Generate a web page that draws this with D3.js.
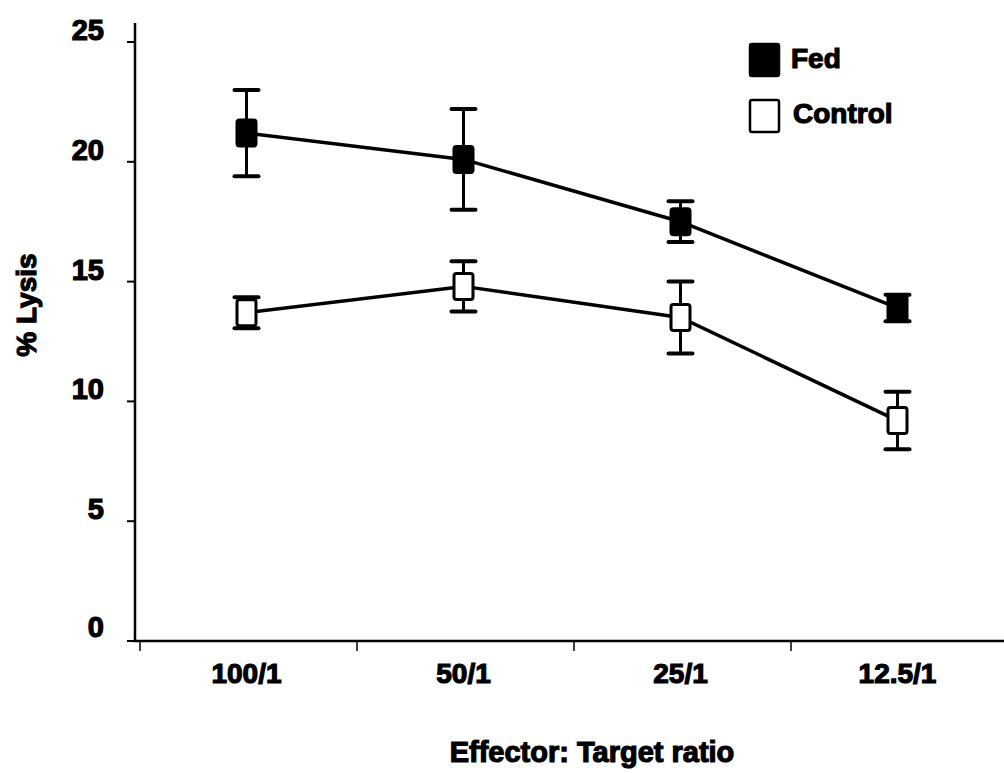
<!DOCTYPE html>
<html>
<head>
<meta charset="utf-8">
<script src="https://cdn.jsdelivr.net/npm/d3@7"></script>
<style>
  body { margin: 0; background: #fff; }
  text { font-family: "Liberation Sans", Arial, sans-serif; font-weight: bold; fill: #000; stroke: #000; stroke-width: 1.2px; }
</style>
</head>
<body>
<script>
var categories = ["100/1", "50/1", "25/1", "12.5/1"];
var fedMean    = [21.2, 20.1, 17.5, 13.9];
var fedErr     = [1.8, 2.1, 0.85, 0.55];
var ctrlMean   = [13.7, 14.8, 13.5, 9.2];
var ctrlErr    = [0.65, 1.05, 1.5, 1.2];
var yTicks     = [0, 5, 10, 15, 20, 25];

var width = 1004, height = 773;

var svg = d3.select("body").append("svg")
    .attr("width", width)
    .attr("height", height);

var x = d3.scaleBand().domain(categories).range([140, 1008]);
var y = d3.scaleLinear().domain([0, 25]).range([641, 42]);
var cx = function(c){ return x(c) + x.bandwidth() / 2 - 2; };

// axes
svg.append("line")
    .attr("x1", 135).attr("x2", 135)
    .attr("y1", 23).attr("y2", 642)
    .attr("stroke", "#000").attr("stroke-width", 2.5);
svg.append("line")
    .attr("x1", 133).attr("x2", 1004)
    .attr("y1", 641).attr("y2", 641)
    .attr("stroke", "#000").attr("stroke-width", 2.5);

svg.selectAll(".ytick").data(yTicks).enter().append("line")
    .attr("x1", 127).attr("x2", 135)
    .attr("y1", function(d){ return y(d); })
    .attr("y2", function(d){ return y(d); })
    .attr("stroke", "#000").attr("stroke-width", 2);

svg.selectAll(".ylab").data(yTicks).enter().append("text")
    .attr("x", 104)
    .attr("y", function(d){ return y(d) - (d === 0 ? 4 : 2); })
    .attr("text-anchor", "end")
    .attr("font-size", 29)
    .text(function(d){ return d; });

svg.selectAll(".xtick").data(categories).enter().append("line")
    .attr("x1", function(d){ return x(d); })
    .attr("x2", function(d){ return x(d); })
    .attr("y1", 641).attr("y2", 651)
    .attr("stroke", "#000").attr("stroke-width", 1.5);

svg.selectAll(".xlab").data(categories).enter().append("text")
    .attr("x", function(d){ return cx(d); })
    .attr("y", 683)
    .attr("text-anchor", "middle")
    .attr("font-size", 28)
    .text(function(d){ return d; });

svg.append("text")
    .attr("x", 592).attr("y", 762)
    .attr("text-anchor", "middle")
    .attr("font-size", 29)
    .text("Effector: Target ratio");

svg.append("text")
    .attr("transform", "translate(36,305) rotate(-90)")
    .attr("text-anchor", "middle")
    .attr("font-size", 28)
    .text("% Lysis");

function drawSeries(mean, err, filled) {
    var pts = categories.map(function(c, i){ return {c: c, m: mean[i], e: err[i]}; });
    var line = d3.line()
        .x(function(d){ return cx(d.c); })
        .y(function(d){ return y(d.m); });
    svg.append("path")
        .datum(pts)
        .attr("d", line)
        .attr("fill", "none")
        .attr("stroke", "#000")
        .attr("stroke-width", 3.5);

    var g = svg.append("g");
    g.selectAll(".ev").data(pts).enter().append("line")
        .attr("x1", function(d){ return cx(d.c); })
        .attr("x2", function(d){ return cx(d.c); })
        .attr("y1", function(d){ return y(d.m + d.e); })
        .attr("y2", function(d){ return y(d.m - d.e); })
        .attr("stroke", "#000").attr("stroke-width", 3);
    [1, -1].forEach(function(s){
        g.selectAll(".cap").data(pts).enter().append("line")
            .attr("x1", function(d){ return cx(d.c) - 12; })
            .attr("x2", function(d){ return cx(d.c) + 12; })
            .attr("y1", function(d){ return y(d.m + s * d.e); })
            .attr("y2", function(d){ return y(d.m + s * d.e); })
            .attr("stroke", "#000").attr("stroke-width", 4)
            .attr("stroke-linecap", "round");
    });
    g.selectAll(".mk").data(pts).enter().append("rect")
        .attr("x", function(d){ return cx(d.c) - 9.5; })
        .attr("y", function(d){ return y(d.m) - 13; })
        .attr("width", 19).attr("height", 26)
        .attr("rx", 2.5)
        .attr("fill", filled ? "#000" : "#fff")
        .attr("stroke", "#000").attr("stroke-width", 3);
}

drawSeries(ctrlMean, ctrlErr, false);
drawSeries(fedMean, fedErr, true);

// legend
var legend = [{name: "Fed", filled: true}, {name: "Control", filled: false}];
var lg = svg.selectAll(".leg").data(legend).enter().append("g")
    .attr("transform", function(d, i){ return "translate(749," + (43 + i * 56) + ")"; });
lg.append("rect")
    .attr("x", 1).attr("y", 1)
    .attr("width", 29).attr("height", 32)
    .attr("rx", 2)
    .attr("fill", function(d){ return d.filled ? "#000" : "#fff"; })
    .attr("stroke", "#000").attr("stroke-width", 2.5);
lg.append("text")
    .attr("x", function(d){ return d.filled ? 42 : 44; })
    .attr("y", function(d){ return d.filled ? 25 : 24; })
    .attr("font-size", 28)
    .text(function(d){ return d.name; });
</script>
</body>
</html>
